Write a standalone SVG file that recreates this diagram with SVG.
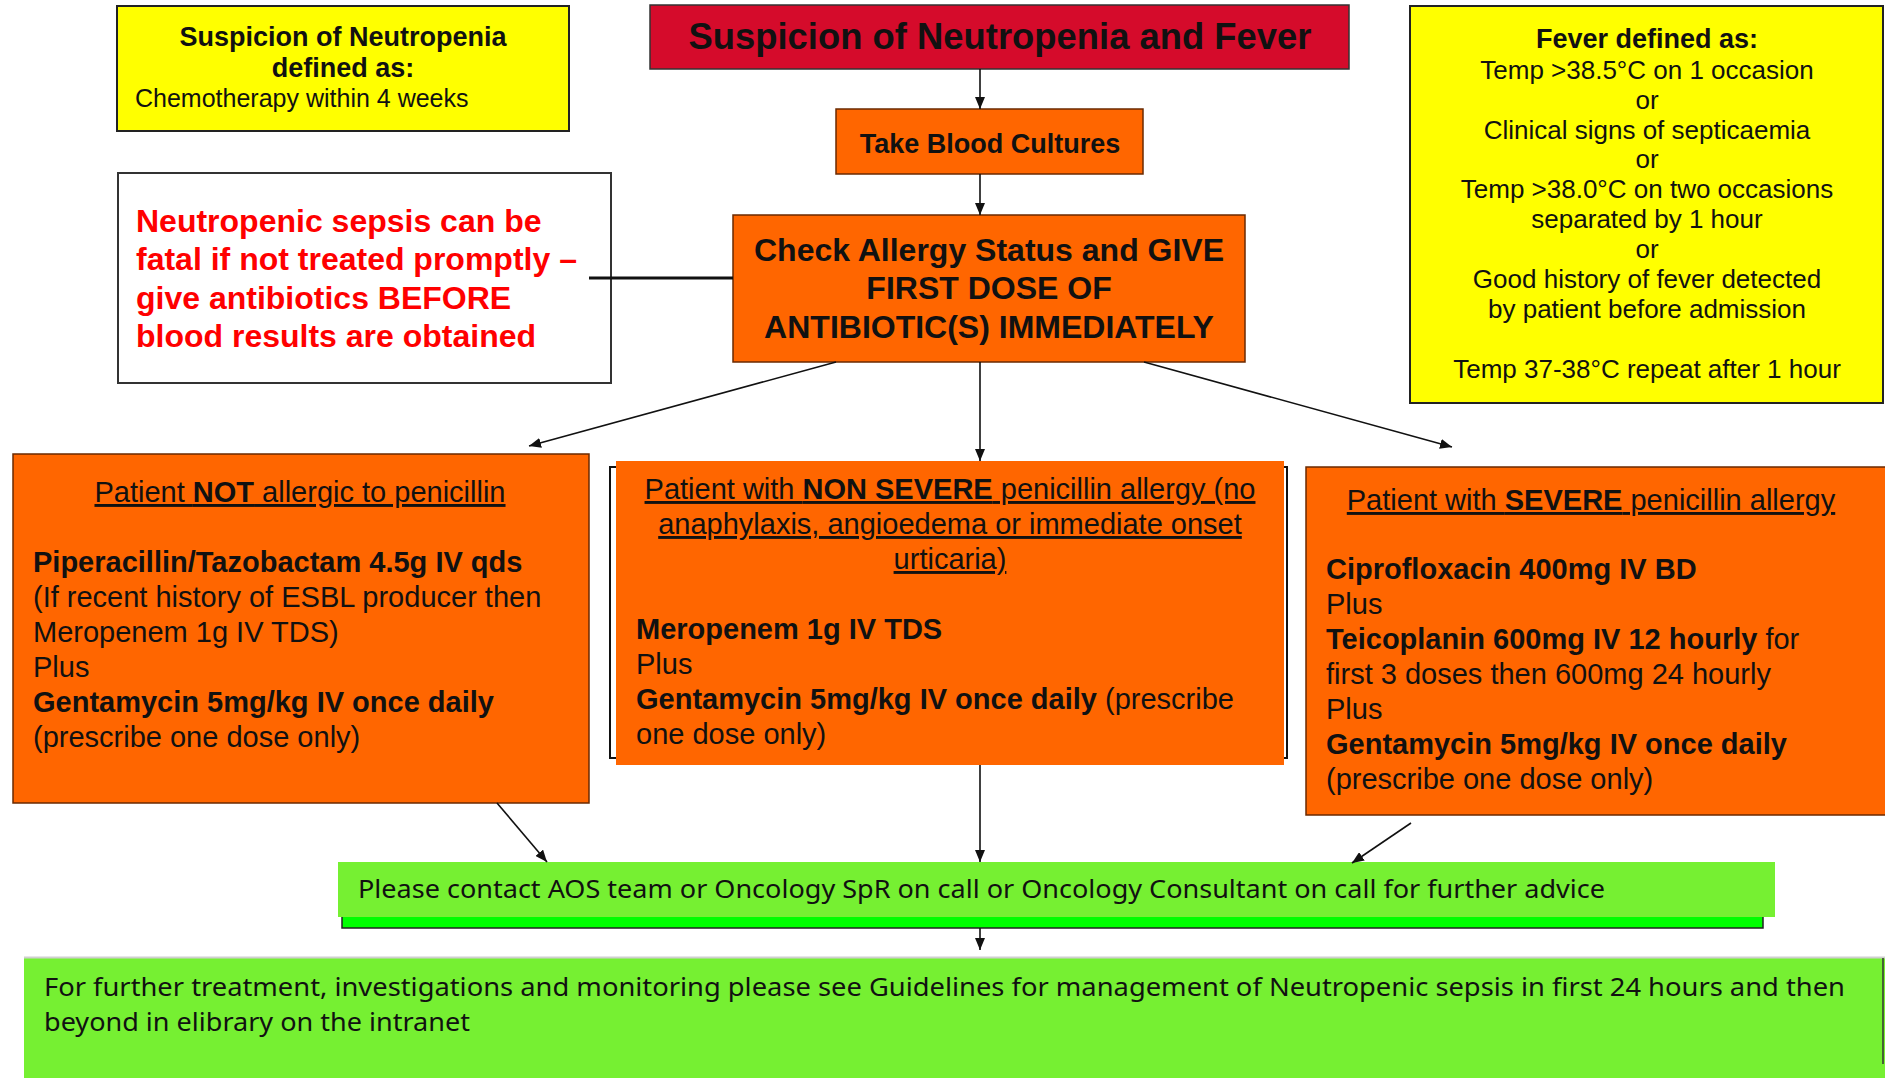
<svg xmlns="http://www.w3.org/2000/svg" width="1885" height="1078" viewBox="0 0 1885 1078">
<style>
.t{font-family:"Liberation Sans",Arial,sans-serif;fill:#111}
.b{font-weight:bold}
.c{text-anchor:middle}
.u{text-decoration:underline}
.red{fill:#FF0000;font-weight:bold;font-size:32px}
.ob{font-size:29px}
.g{font-family:"Noto Sans","Open Sans",sans-serif;fill:#111;font-size:25px}
.yel{fill:#FFFF00;stroke:#222;stroke-width:2}
.org{fill:#FF6600;stroke:#6b2a00;stroke-width:1.5}
.con{stroke:#111;stroke-width:1.6;fill:none;marker-end:url(#arr)}
</style>
<defs>
<marker id="arr" viewBox="0 0 12 10" refX="12" refY="5" markerWidth="12" markerHeight="10" markerUnits="userSpaceOnUse" orient="auto">
<path d="M0,0 L12,5 L0,10 z" fill="#111"/>
</marker>
</defs>
<rect width="1885" height="1078" fill="#fff"/>

<g id="neutropenia-def">
<rect class="yel" x="117" y="6" width="452" height="125"/>
<text class="t b c" x="343" y="46" font-size="27">Suspicion of Neutropenia</text>
<text class="t b c" x="343" y="77" font-size="27">defined as:</text>
<text class="t" x="135" y="107" font-size="25">Chemotherapy within 4 weeks</text>
</g>

<g id="title">
<rect x="650" y="5" width="699" height="64" fill="#D50B2B" stroke="#333" stroke-width="1.5"/>
<text class="t b c" x="1000" y="49" font-size="36" textLength="623" lengthAdjust="spacingAndGlyphs">Suspicion of Neutropenia and Fever</text>
</g>

<g id="fever-def">
<rect class="yel" x="1410" y="6" width="473" height="397"/>
<g class="t c" font-size="26">
<text class="b" x="1647" y="48" font-size="27">Fever defined as:</text>
<text x="1647" y="79">Temp &gt;38.5°C on 1 occasion</text>
<text x="1647" y="109">or</text>
<text x="1647" y="139">Clinical signs of septicaemia</text>
<text x="1647" y="168">or</text>
<text x="1647" y="198">Temp &gt;38.0°C on two occasions</text>
<text x="1647" y="228">separated by 1 hour</text>
<text x="1647" y="258">or</text>
<text x="1647" y="288">Good history of fever detected</text>
<text x="1647" y="318">by patient before admission</text>
<text x="1647" y="378">Temp 37-38°C repeat after 1 hour</text>
</g>
</g>

<g id="blood-cultures">
<rect x="836" y="109" width="307" height="65" fill="#FF6600" stroke="#6b2a00" stroke-width="1.5"/>
<text class="t b c" x="990" y="153" font-size="27">Take Blood Cultures</text>
</g>

<g id="warning">
<rect x="118" y="173" width="493" height="210" fill="#fff" stroke="#333" stroke-width="2"/>
<text class="t red" x="136" y="232">Neutropenic sepsis can be</text>
<text class="t red" x="136" y="270">fatal if not treated promptly –</text>
<text class="t red" x="136" y="309">give antibiotics BEFORE</text>
<text class="t red" x="136" y="347">blood results are obtained</text>
</g>

<g id="check-allergy">
<rect x="733" y="215" width="512" height="147" fill="#FF6600" stroke="#6b2a00" stroke-width="1.5"/>
<text class="t b c" x="989" y="261" font-size="32">Check Allergy Status and GIVE</text>
<text class="t b c" x="989" y="299" font-size="32">FIRST DOSE OF</text>
<text class="t b c" x="989" y="338" font-size="32">ANTIBIOTIC(S) IMMEDIATELY</text>
</g>

<g id="not-allergic">
<rect class="org" x="13" y="454" width="576" height="349"/>
<text class="t ob c u" x="300" y="502">Patient <tspan class="b">NOT</tspan> allergic to penicillin</text>
<text class="t ob b" x="33" y="572">Piperacillin/Tazobactam 4.5g IV qds</text>
<text class="t ob" x="33" y="607">(If recent history of ESBL producer then</text>
<text class="t ob" x="33" y="642">Meropenem 1g IV TDS)</text>
<text class="t ob" x="33" y="677">Plus</text>
<text class="t ob b" x="33" y="712">Gentamycin 5mg/kg IV once daily</text>
<text class="t ob" x="33" y="747">(prescribe one dose only)</text>
</g>

<g id="non-severe">
<rect x="610" y="467" width="677" height="291" fill="none" stroke="#111" stroke-width="2"/>
<rect x="616" y="461" width="668" height="304" fill="#FF6600"/>
<text class="t ob c u" x="950" y="499">Patient with <tspan class="b">NON SEVERE</tspan> penicillin allergy (no</text>
<text class="t ob c u" x="950" y="534">anaphylaxis, angioedema or immediate onset</text>
<text class="t ob c u" x="950" y="569">urticaria)</text>
<text class="t ob b" x="636" y="639">Meropenem 1g IV TDS</text>
<text class="t ob" x="636" y="674">Plus</text>
<text class="t ob" x="636" y="709"><tspan class="b">Gentamycin 5mg/kg IV once daily</tspan> (prescribe</text>
<text class="t ob" x="636" y="744">one dose only)</text>
</g>

<g id="severe">
<rect class="org" x="1306" y="467" width="590" height="348"/>
<text class="t ob c u" x="1591" y="510">Patient with <tspan class="b">SEVERE</tspan> penicillin allergy</text>
<text class="t ob b" x="1326" y="579">Ciprofloxacin 400mg IV BD</text>
<text class="t ob" x="1326" y="614">Plus</text>
<text class="t ob" x="1326" y="649"><tspan class="b">Teicoplanin 600mg IV 12 hourly</tspan> for</text>
<text class="t ob" x="1326" y="684">first 3 doses then 600mg 24 hourly</text>
<text class="t ob" x="1326" y="719">Plus</text>
<text class="t ob b" x="1326" y="754">Gentamycin 5mg/kg IV once daily</text>
<text class="t ob" x="1326" y="789">(prescribe one dose only)</text>
</g>

<g id="contact">
<rect x="342" y="895" width="1421" height="33" fill="#00FF00" stroke="#222" stroke-width="1.5"/>
<rect x="338" y="862" width="1437" height="55" fill="#76F032"/>
<text class="g" x="358" y="898" textLength="1247" lengthAdjust="spacingAndGlyphs">Please contact AOS team or Oncology SpR on call or Oncology Consultant on call for further advice</text>
</g>

<g id="further">
<rect x="24" y="957" width="1861" height="121" fill="#76F032"/>
<line x1="24" y1="957.5" x2="1885" y2="957.5" stroke="#cfcfcf" stroke-width="2"/>
<line x1="1883" y1="958" x2="1883" y2="1064" stroke="#333" stroke-width="1.5"/>
<text class="g" x="44" y="996" textLength="1801" lengthAdjust="spacingAndGlyphs">For further treatment, investigations and monitoring please see Guidelines for management of Neutropenic sepsis in first 24 hours and then</text>
<text class="g" x="44" y="1031" textLength="426" lengthAdjust="spacingAndGlyphs">beyond in elibrary on the intranet</text>
</g>

<g id="connectors">
<line class="con" x1="980" y1="69" x2="980" y2="109"/>
<line class="con" x1="980" y1="174" x2="980" y2="215"/>
<line x1="589" y1="278" x2="733" y2="278" stroke="#111" stroke-width="3"/>
<line class="con" x1="836" y1="362" x2="529" y2="446"/>
<line class="con" x1="980" y1="362" x2="980" y2="461"/>
<line class="con" x1="1144" y1="362" x2="1452" y2="447"/>
<line class="con" x1="497" y1="803" x2="547" y2="862"/>
<line class="con" x1="980" y1="765" x2="980" y2="862"/>
<line class="con" x1="1411" y1="823" x2="1352" y2="863"/>
<line class="con" x1="980" y1="928" x2="980" y2="950"/>
</g>
</svg>
